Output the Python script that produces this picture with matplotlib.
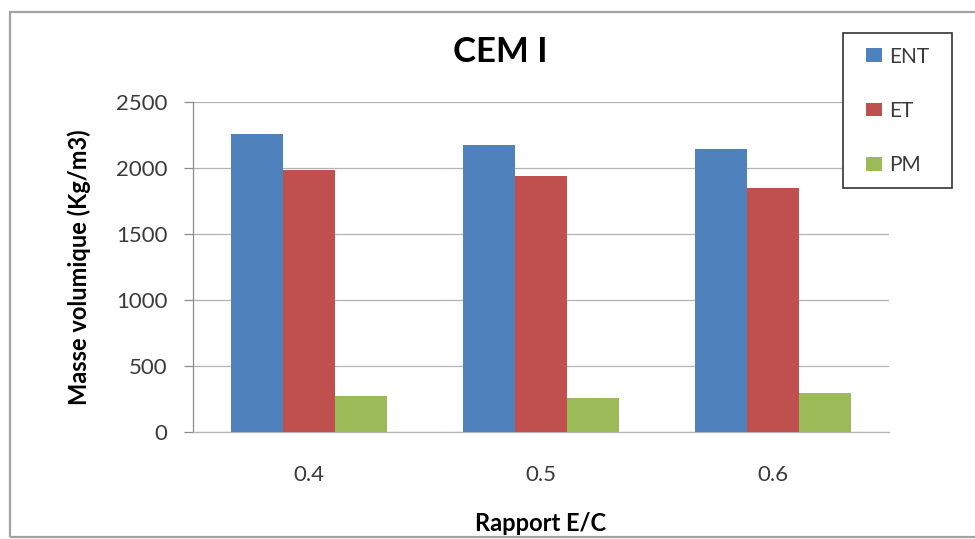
import matplotlib
matplotlib.use("Agg")
import matplotlib.pyplot as plt
from matplotlib.patches import Rectangle
import numpy as np

# Data: density (kg/m3) by water/cement ratio for CEM I
ratios = ["0.4", "0.5", "0.6"]
series_names = ["ENT", "ET", "PM"]
ent = [2260, 2178, 2143]
et = [1983, 1937, 1846]
pm = [276, 260, 292]
y_ticks = [0, 500, 1000, 1500, 2000, 2500]

colors = ["#4F81BD", "#C0504D", "#9BBB59"]
font = "Lato"

W, H = 975, 539
fig = plt.figure(figsize=(W / 100, H / 100), dpi=100)
fig.patch.set_facecolor("white")

# Outer chart frame
fig.patches.append(Rectangle((10 / W, 1 - 537 / H), 1.2, (537 - 12) / H,
                             transform=fig.transFigure, fill=False,
                             edgecolor="#a3a3a3", linewidth=1.6, zorder=0))

left, right, top, bottom = 193, 889, 102, 432
ax = fig.add_axes([left / W, 1 - bottom / H, (right - left) / W, (bottom - top) / H])

x = np.arange(len(ratios))
bw = 0.224
for i, (vals, name) in enumerate(zip([ent, et, pm], series_names)):
    ax.bar(x + (i - 1) * bw, vals, width=bw, color=colors[i], label=name,
           zorder=3, linewidth=0)

ax.set_xlim(-0.5, len(ratios) - 0.5)
ax.set_ylim(0, 2500)
ax.set_yticks(y_ticks)
ax.set_yticklabels([str(v) for v in y_ticks], fontfamily=font, fontsize=16,
                   color="#3a3a3a")
ax.set_xticks(x)
ax.set_xticklabels(ratios, fontfamily=font, fontsize=16, color="#3a3a3a")

ax.grid(axis="y", color="#b3b3b3", linewidth=0.9, zorder=0)
ax.set_axisbelow(True)
for s in ["top", "right"]:
    ax.spines[s].set_visible(False)
ax.spines["bottom"].set_color("#b3b3b3")
ax.spines["bottom"].set_linewidth(0.9)
ax.spines["left"].set_color("#8c8c8c")
ax.spines["left"].set_linewidth(0.9)
ax.tick_params(axis="y", length=6.5, width=0.9, color="#8c8c8c", pad=12)
ax.tick_params(axis="x", length=0, pad=24)

ax.set_xlabel("Rapport E/C", fontfamily=font, fontsize=17, fontweight="bold",
              va="baseline")
ax.xaxis.set_label_coords(0.5, -0.30)
ax.set_ylabel("Masse volumique (Kg/m3)", fontfamily=font, fontsize=17,
              fontweight="bold", va="center")
ax.yaxis.set_label_coords(-0.164, 0.5)

ax.set_title("CEM I", x=0.441, y=1.097, fontfamily=font, fontsize=25,
             fontweight="bold", va="baseline")

# Legend box
fig.patches.append(Rectangle((843 / W, 1 - 188 / H), 109 / W, 155 / H,
                             transform=fig.transFigure, facecolor="white",
                             edgecolor="#333333", linewidth=1.2, zorder=5))
leg = fig.legend(loc="center", bbox_to_anchor=(897.5 / W, 1 - 111 / H),
                 frameon=False, prop={"family": font, "size": 15},
                 handlelength=0.77, handleheight=0.63, handletextpad=0.34,
                 labelspacing=1.65, borderpad=0)
leg.set_zorder(6)
for t in leg.get_texts():
    t.set_color("#3a3a3a")

fig.savefig("out.png", dpi=100)
